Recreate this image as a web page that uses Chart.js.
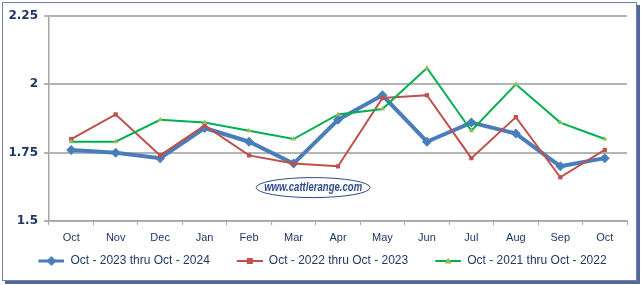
<!DOCTYPE html>
<html>
<head>
<meta charset="utf-8">
<script src="https://cdn.jsdelivr.net/npm/chart.js@4.4.1/dist/chart.umd.min.js"></script>
<style>
    body { margin: 0; background: #fff; }
    #frame {
        position: absolute; left: 2px; top: 2px; width: 635px; height: 279px;
        box-sizing: border-box; border: 1.5px solid #6F84AD;
        box-shadow: 3px 3px 0 #52679A;
    }
    #wrap { position: absolute; left: 0; top: 0; width: 644px; height: 285px; }
</style>
</head>
<body>
<div id="frame"></div>
<div id="wrap"><canvas id="grafico"></canvas></div>
<script>
// categorias y valores
const meses = ["Oct", "Nov", "Dec", "Jan", "Feb", "Mar", "Apr", "May", "Jun", "Jul", "Aug", "Sep", "Oct"];
const serie2024 = [1.76, 1.75, 1.73, 1.84, 1.79, 1.71, 1.87, 1.96, 1.79, 1.86, 1.82, 1.70, 1.73];
const serie2023 = [1.80, 1.89, 1.74, 1.85, 1.74, 1.71, 1.70, 1.95, 1.96, 1.73, 1.88, 1.66, 1.76];
const serie2022 = [1.79, 1.79, 1.87, 1.86, 1.83, 1.80, 1.89, 1.91, 2.06, 1.83, 2.00, 1.86, 1.80];
const nombres = ["Oct - 2023 thru Oct - 2024", "Oct - 2022 thru Oct - 2023", "Oct - 2021 thru Oct - 2022"];
const ticksY = [1.5, 1.75, 2, 2.25];

const azul = "#4A7EBB", rojo = "#C0504D", verde = "#00B050", verdeClaro = "#9BBB59";
const textoColor = "#1F3864";

// simbolo de leyenda: linea con marcador
function simbolo(color, marcaColor, grosor, forma) {
    const c = document.createElement("canvas");
    c.width = 44; c.height = 12;
    const g = c.getContext("2d");
    g.strokeStyle = color; g.lineWidth = grosor;
    g.beginPath(); g.moveTo(18, 6); g.lineTo(44, 6); g.stroke();
    g.fillStyle = marcaColor;
    const cx = 31, cy = 6;
    g.beginPath();
    if (forma === "rombo") {
        g.moveTo(cx, cy - 5); g.lineTo(cx + 5, cy); g.lineTo(cx, cy + 5); g.lineTo(cx - 5, cy);
    } else if (forma === "cuadro") {
        g.rect(cx - 3, cy - 3, 6, 6);
    } else {
        g.moveTo(cx, cy - 3.5); g.lineTo(cx + 3.5, cy + 2.5); g.lineTo(cx - 3.5, cy + 2.5);
    }
    g.closePath(); g.fill();
    return c;
}

// marca de agua
const marcaAgua = {
    id: "marcaAgua",
    beforeDatasetsDraw(chart) {
        const a = chart.chartArea, ctx = chart.ctx;
        const cx = a.left + (a.right - a.left) * 0.457;
        const cy = a.top + (a.bottom - a.top) * 0.837;
        ctx.save();
        ctx.strokeStyle = "#2E4A8F"; ctx.lineWidth = 1;
        ctx.beginPath(); ctx.ellipse(cx, cy, 57, 10, 0, 0, Math.PI * 2); ctx.stroke();
        ctx.fillStyle = "#2E4A8F";
        ctx.font = "italic bold 12px 'Liberation Sans', sans-serif";
        ctx.textAlign = "center"; ctx.textBaseline = "middle";
        ctx.fillText("www.cattlerange.com", cx, cy, 98);
        ctx.restore();
    }
};

new Chart(document.getElementById("grafico"), {
    type: "line",
    data: {
        labels: meses,
        datasets: [
            {
                label: nombres[0], data: serie2024, order: 3,
                borderColor: azul, backgroundColor: azul, borderWidth: 4,
                pointStyle: "rectRot", pointRadius: 5, pointBorderWidth: 0,
                pointBackgroundColor: azul, tension: 0,
                legendSimbolo: simbolo(azul, azul, 3, "rombo")
            },
            {
                label: nombres[1], data: serie2023, order: 2,
                borderColor: rojo, backgroundColor: rojo, borderWidth: 2,
                pointStyle: "rect", pointRadius: 3, pointBorderWidth: 0,
                pointBackgroundColor: rojo, tension: 0,
                legendSimbolo: simbolo(rojo, rojo, 2, "cuadro")
            },
            {
                label: nombres[2], data: serie2022, order: 1,
                borderColor: verde, backgroundColor: verdeClaro, borderWidth: 2,
                pointStyle: "triangle", pointRadius: 3, pointBorderWidth: 0,
                pointBackgroundColor: verdeClaro, tension: 0,
                legendSimbolo: simbolo(verde, verdeClaro, 2, "triangulo")
            }
        ]
    },
    options: {
        responsive: true,
        maintainAspectRatio: false,
        animation: false,
        layout: { padding: { left: 0, right: 17, top: 16, bottom: 8 } },
        plugins: {
            tooltip: { enabled: false },
            legend: {
                position: "bottom",
                labels: {
                    usePointStyle: true,
                    pointStyleWidth: 44,
                    boxHeight: 12,
                    padding: 9,
                    color: textoColor,
                    font: { family: "'Liberation Sans', sans-serif", size: 12 },
                    sort: (a, b) => a.datasetIndex - b.datasetIndex,
                    generateLabels(chart) {
                        return chart.data.datasets.map((d, i) => ({
                            text: d.label, datasetIndex: i, fontColor: textoColor,
                            pointStyle: d.legendSimbolo, lineWidth: 0,
                            fillStyle: "transparent", strokeStyle: "transparent", hidden: false
                        }));
                    }
                }
            }
        },
        scales: {
            x: {
                offset: true,
                afterFit(scale) { scale.height = 25; },
                grid: { display: true, drawOnChartArea: false, offset: true, tickLength: 4, color: "#A6A6A6", lineWidth: 1 },
                border: { color: "#A6A6A6", width: 1.5 },
                ticks: { color: textoColor, padding: 6, font: { family: "'Liberation Sans', sans-serif", size: 11 } }
            },
            y: {
                min: 1.5, max: 2.25,
                afterFit(scale) { scale.width = 49; },
                afterBuildTicks(scale) { scale.ticks = ticksY.map(v => ({ value: v })); },
                grid: { color: "#B4B4B4", lineWidth: 2, tickLength: 5 },
                border: { color: "#A6A6A6", width: 1.5 },
                ticks: {
                    color: textoColor, padding: 6,
                    font: { family: "'DejaVu Sans', sans-serif", size: 12, weight: "bold" },
                    callback: v => String(Number(v))
                }
            }
        }
    },
    plugins: [marcaAgua]
});
</script>
</body>
</html>
